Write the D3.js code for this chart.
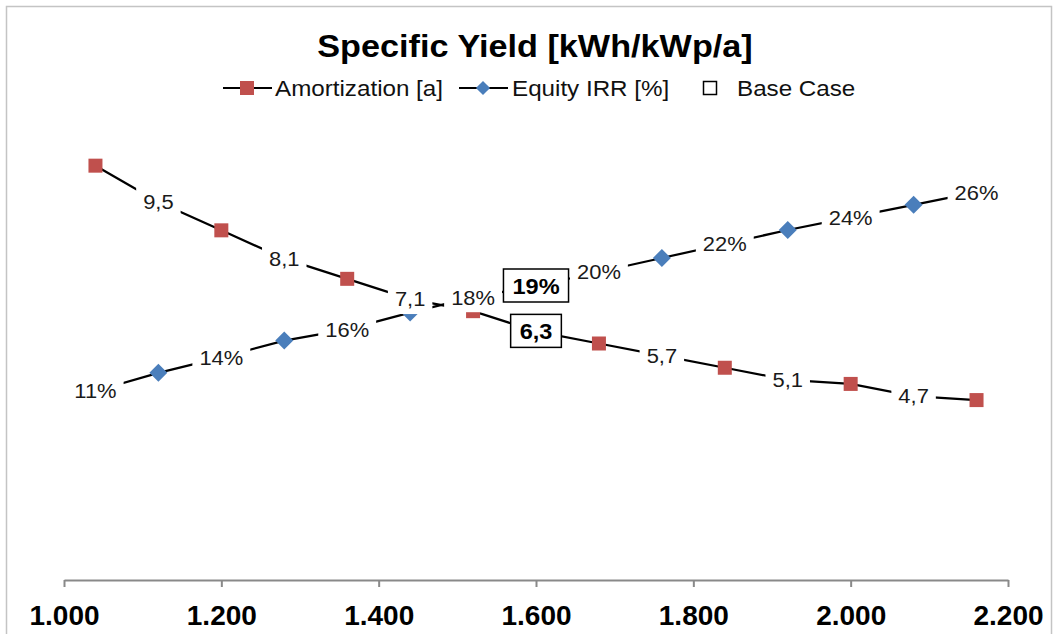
<!DOCTYPE html>
<html>
<head>
<meta charset="utf-8">
<script src="https://cdn.jsdelivr.net/npm/d3@7"></script>
<style>
	body { margin: 0; background: #fff; }
	text { font-family: "Liberation Sans", Arial, sans-serif; }
</style>
</head>
<body>
<div class="chart"></div>
<script>
//Chart values
var yieldX = [1040, 1120, 1200, 1280, 1360, 1440, 1520, 1600, 1680, 1760, 1840, 1920, 2000, 2080, 2160];
var amortization = [10.4, 9.5, 8.8, 8.1, 7.6, 7.1, 6.8, 6.3, 6.0, 5.7, 5.4, 5.1, 5.0, 4.7, 4.6];
var equityIrr = [11.4, 12.7, 13.8, 15.0, 15.8, 17.0, 18.1, 18.9, 19.9, 20.9, 21.9, 22.9, 23.8, 24.7, 25.6];
var baseCaseYield = 1600;
var xTicks = [1000, 1200, 1400, 1600, 1800, 2000, 2200];
var seriesNames = ["Amortization [a]", "Equity IRR [%]", "Base Case"];
var title = "Specific Yield [kWh/kWp/a]";

//Width and height of chart
var width = 1058,
	height = 634;

var red = "#C0504D",
	blue = "#4A7EBB",
	fontStack = '"Liberation Sans", Arial, sans-serif',
	stretch = 1.07; //the picture's text is a bit wider than Arial

var svg = d3.select(".chart")
			.append("svg")
			.attr("width", width)
			.attr("height", height);

//Outer frame
svg.append("rect")
	.attr("x", 6.5)
	.attr("y", 6.5)
	.attr("width", 1045)
	.attr("height", height)
	.attr("fill", "#fff")
	.attr("stroke", "#c4c4c4")
	.attr("stroke-width", 1.5);

//Scales: one shown x axis, two hidden value axes
var x = d3.scaleLinear().domain([1000, 2200]).range([64, 1008]);
var yAmort = d3.scaleLinear().domain([0, 12]).range([586, 101]);
var yIrr = d3.scaleLinear().domain([0, 30]).range([550.6, 130.6]);

var de = d3.formatLocale({decimal: ",", thousands: ".", grouping: [3], currency: ["", "€"]});
var fmtAmort = function(v){ return de.format(".1f")(v); };
var fmtIrr = function(v){ return Math.round(v) + "%"; };

//Title
svg.append("text")
	.attr("transform", "translate(535,57) scale(1.07,1)")
	.attr("text-anchor", "middle")
	.style("font-size", "32px")
	.style("font-weight", "bold")
	.text(title);

//Legend
var legend = svg.append("g");
var legendY = 88;
legend.append("line").attr("x1", 223).attr("x2", 272).attr("y1", legendY).attr("y2", legendY)
	.attr("stroke", "#000").attr("stroke-width", 2);
legend.append("rect").attr("x", 240).attr("y", legendY - 7).attr("width", 14).attr("height", 14).attr("fill", red);
legend.append("line").attr("x1", 459).attr("x2", 508).attr("y1", legendY).attr("y2", legendY)
	.attr("stroke", "#000").attr("stroke-width", 2);
legend.append("path").attr("d", d3.symbol(d3.symbolSquare, 100)())
	.attr("transform", "translate(483," + legendY + ") rotate(45)").attr("fill", blue);
legend.append("rect").attr("x", 703.5).attr("y", legendY - 6.5).attr("width", 13).attr("height", 13)
	.attr("fill", "none").attr("stroke", "#000").attr("stroke-width", 1.5);
var legendTextX = [275, 512, 737];
legend.selectAll(".legText")
	.data(seriesNames)
	.enter()
	.append("text")
	.attr("class", "legText")
	.attr("transform", function(d, i){ return "translate(" + legendTextX[i] + "," + (legendY + 8) + ") scale(1.1,1)"; })
	.style("font-size", "22px")
	.attr("fill", "#111")
	.text(function(d){ return d; });

//X axis
var xAxis = svg.append("g")
	.attr("transform", "translate(0,580)")
	.call(d3.axisBottom(x).tickValues(xTicks).tickSize(7).tickSizeOuter(0).tickFormat(de.format(",")));
xAxis.attr("font-family", fontStack).attr("font-size", 28);
xAxis.select(".domain").attr("stroke", "#898989").attr("stroke-width", 2);
xAxis.selectAll(".tick line").attr("stroke", "#898989").attr("stroke-width", 2);
xAxis.selectAll(".tick text")
	.attr("y", 45)
	.attr("dy", 0)
	.attr("fill", "#000")
	.style("font-weight", "bold");

//Points
var pts = yieldX.map(function(v, i){
	return {x: v, a: amortization[i], r: equityIrr[i], i: i, base: v == baseCaseYield};
});

var lineA = d3.line().x(function(d){ return x(d.x); }).y(function(d){ return yAmort(d.a); });
var lineR = d3.line().x(function(d){ return x(d.x); }).y(function(d){ return yIrr(d.r); });

svg.append("path").datum(pts).attr("d", lineA)
	.attr("fill", "none").attr("stroke", "#000").attr("stroke-width", 2.25);
svg.append("path").datum(pts).attr("d", lineR)
	.attr("fill", "none").attr("stroke", "#000").attr("stroke-width", 2.25);

//Markers on every other point, labels on the others
svg.selectAll(".sq")
	.data(pts.filter(function(d){ return d.i % 2 == 0; }))
	.enter()
	.append("rect")
	.attr("class", "sq")
	.attr("x", function(d){ return x(d.x) - 7; })
	.attr("y", function(d){ return yAmort(d.a) - 7; })
	.attr("width", 14)
	.attr("height", 14)
	.attr("fill", red);

svg.selectAll(".dia")
	.data(pts.filter(function(d){ return d.i % 2 == 1; }))
	.enter()
	.append("path")
	.attr("class", "dia")
	.attr("d", d3.symbol(d3.symbolSquare, 162)())
	.attr("transform", function(d){ return "translate(" + x(d.x) + "," + yIrr(d.r) + ") rotate(45)"; })
	.attr("fill", blue);

var addLabel = function(px, py, txt, boxed){
	var g = svg.append("g").attr("transform", "translate(" + px + "," + py + ")");
	var r = g.append("rect");
	var t = g.append("text")
		.attr("text-anchor", "middle")
		.attr("dy", "0.36em")
		.attr("transform", "scale(" + stretch + ",1)")
		.style("font-size", boxed ? "22px" : "20.5px")
		.style("font-weight", boxed ? "bold" : "normal")
		.attr("fill", boxed ? "#000" : "#1a1a1a")
		.text(txt);
	var w = t.node().getComputedTextLength() * stretch;
	var pad = boxed ? 9 : 7;
	r.attr("x", -w / 2 - pad)
		.attr("y", boxed ? -17 : -15)
		.attr("width", w + 2 * pad)
		.attr("height", boxed ? 33 : 30)
		.attr("fill", "#fff")
		.attr("stroke", boxed ? "#000" : "none")
		.attr("stroke-width", 1.5);
};

pts.forEach(function(d){
	if(d.base) return;
	if(d.i % 2 == 1){
		addLabel(x(d.x), yAmort(d.a), fmtAmort(d.a), false);
	}
	else {
		addLabel(x(d.x), yIrr(d.r), fmtIrr(d.r), false);
	}
});

//Base case boxes
pts.filter(function(d){ return d.base; }).forEach(function(d){
	addLabel(x(d.x), yIrr(d.r), fmtIrr(d.r), true);
	addLabel(x(d.x), yAmort(d.a), fmtAmort(d.a), true);
});
</script>
</body>
</html>
